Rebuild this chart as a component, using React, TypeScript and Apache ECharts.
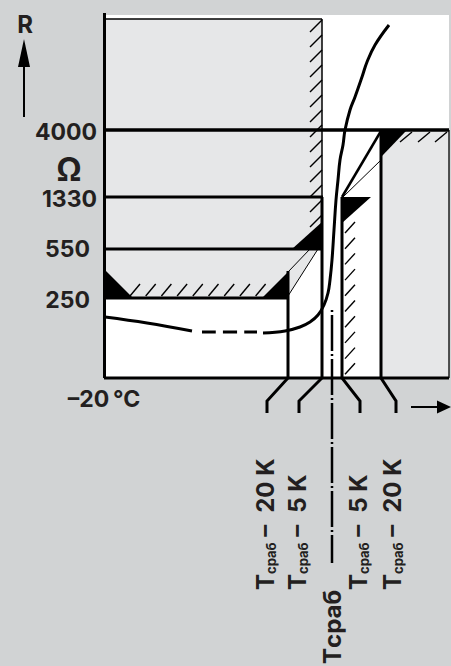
import React, { useEffect, useRef } from "react";
import * as echarts from "echarts";

// ---------- data (schematic units: x = temperature scale, y = resistance scale) ----------
const rLabels = ["250", "550", "1330", "4000"];
const rLevels = [80, 129, 181, 248];

const tLabelTails = ["–\u200220 K", "–\u20025 K", "–\u20025 K", "–\u200220 K"];
const tThresholds = [184, 218, 238, 277];
const tTickEnds = [163, 195, 256, 292];
const tLabelPos = [161, 193, 254, 288];
const tNominal = 228;
const tNominalLabel = "Tсраб";
const tStart = 0;
const tStartLabel = "–20\u2009°C";

const axisXMax = 345;
const axisYMax = 365;

const curveLow = [[1, 61], [43, 55], [88, 47]];
const curveDashed = [[98, 46], [153, 46]];
const curveRise = [
  [159, 45], [181, 47], [196, 51], [206, 56], [214, 63], [220, 73], [224, 85],
  [226, 98], [228, 118], [230, 148], [232, 178], [234, 198], [236, 218], [239, 233],
  [241, 248], [246, 268], [251, 281], [258, 301], [263, 316], [271, 333], [285, 353],
];

// ---------- styles ----------
const INK = "#231f20";
const LINE = "#000000";
const BG = "#d1d3d4";
const PANEL = "#e6e7e8";
const FONT = 'Inter, "Liberation Sans", sans-serif';

function renderSchematic(_params: any, api: any) {
  const c = (p: number[]) => api.coord(p);
  const ch: any[] = [];
  const poly = (pts: number[][], fill: string) =>
    ch.push({ type: "polygon", shape: { points: pts.map(c) }, style: { fill } });
  const seg = (a: number[], b: number[], w: number, dash?: number[]) => {
    const p = c(a);
    const q = c(b);
    ch.push({
      type: "line",
      shape: { x1: p[0], y1: p[1], x2: q[0], y2: q[1] },
      style: { stroke: LINE, lineWidth: w, lineDash: dash || null },
    });
  };
  const path = (pts: number[][], w: number) =>
    ch.push({ type: "polyline", shape: { points: pts.map(c) }, style: { stroke: LINE, lineWidth: w, fill: null } });
  const text = (p: number[], t: string, size: number, lh: number) => {
    const q = c(p);
    ch.push({
      type: "text",
      x: q[0],
      y: q[1],
      style: {
        text: t, fill: INK, font: `bold ${size}px ${FONT}`, lineHeight: lh,
        align: "center", verticalAlign: "middle",
      },
    });
  };
  const hatch = (x: number, y: number, dx: number, dy: number) => seg([x, y], [x + dx, y + dy], 1.4);

  const [l250, l550, l1330, l4000] = rLevels;
  const [tm20, tm5, tp5, tp20] = tThresholds;
  const panelTop = 359;
  const plotTop = 363;

  // fields
  poly([[0.5, 0], [axisXMax, 0], [axisXMax, plotTop], [0.5, plotTop]], "#ffffff");
  poly([[1, panelTop], [tm5, panelTop], [tm5, l550], [tm5 - 4, l550], [tm20, l250 + 2], [tm20, l250], [1, l250]], PANEL);
  poly([[tp20, 0], [axisXMax, 0], [axisXMax, l4000], [tp20, l4000]], PANEL);

  // hatching
  for (let y = 358; y >= 160; y -= 15) hatch(tm5 - 12, y - 12, 12, 12);
  for (let x = 26; x <= 153; x += 15.7) hatch(x, l250 + 2, 10, 12);
  for (let y = 156; y >= 14; y -= 15.7) hatch(tp5 + 3, y - 11, 10, 11);
  for (const x of [296, 314, 331]) hatch(x, l4000 - 12, 12, 10);

  // black wedges
  poly([[1, l250 + 28], [1, l250], [29, l250]], LINE);
  poly([[tm20 - 26, l250], [tm20 + 1, l250], [tm20 + 1, l250 + 27]], LINE);
  poly([[tm5 - 30, l550], [tm5, l550], [tm5, l550 + 27]], LINE);
  poly([[tp5, l1330], [tp5 + 29, l1330], [tp5, l1330 - 26]], LINE);
  poly([[tp20, l4000 - 1], [tp20 + 25, l4000 - 1], [tp20 + 1, l4000 - 26]], LINE);

  // level lines
  seg([0, l250], [tm20 + 1, l250], 3);
  seg([0, l550], [tm5, l550], 3);
  seg([0, l1330], [tm5 + 1, l1330], 3);
  seg([0, l4000], [axisXMax, l4000], 3.5);

  // panel outline
  seg([1, panelTop], [tm5, panelTop], 1.3);
  seg([tm5, panelTop], [tm5, l1330], 1.5);
  seg([axisXMax, 0], [axisXMax, l4000], 1.3);

  // thin construction lines
  seg([tm20, l250 + 26], [tm5 - 12, l550], 1);
  seg([tm20, l250 + 2], [tm5 - 4, l550], 1);
  seg([tp5 + 1, l1330], [tp20, l1330 + 37], 1);
  seg([tp5, l1330], [tp20, l4000 - 1], 2.5);

  // verticals continuing into the bent ticks
  path([[tm20, l250 + 27], [tm20, 0], [tTickEnds[0], -23], [tTickEnds[0], -35]], 3);
  path([[tm5, l1330], [tm5, 0], [tTickEnds[1], -23], [tTickEnds[1], -35]], 3);
  path([[tp5, l1330], [tp5, 0], [tTickEnds[2], -23], [tTickEnds[2], -35]], 3);
  path([[tp20, l4000], [tp20, 0], [tTickEnds[3], -23], [tTickEnds[3], -35]], 3);

  // nominal temperature dash-dot
  seg([tNominal, 68], [tNominal, -185], 2.5, [2, 3, 36, 3]);

  // frame
  seg([0.5, 0], [0.5, axisYMax], 3);
  seg([0, 0], [axisXMax, 0], 3);

  // axis arrows and symbols
  seg([-80, 261], [-80, 312], 2);
  poly([[-80, 339], [-86, 311], [-74, 311]], LINE);
  seg([307, -29], [334, -29], 2);
  poly([[347, -29], [333, -22.5], [333, -35.5]], LINE);
  text([-79, 354], "R", 24, 24);
  text([-35, 209], "Ω", 32, 26);

  return { type: "group", children: ch };
}

const labelFont = { fontFamily: FONT, fontWeight: "bold" as const, fontSize: 23, color: INK };
const hiddenAxis = {
  axisLine: { show: false },
  axisTick: { show: false },
  splitLine: { show: false },
};

const curve = (data: number[][], dashed: boolean) => ({
  type: "line",
  data,
  smooth: 0.4,
  symbol: "none",
  silent: true,
  z: 4,
  lineStyle: { color: LINE, width: 3, type: dashed ? [14, 7] : "solid" },
});

const yKeys: Record<string, string> = { "250": "c", "550": "b", "1330": "a", "4000": "a" };

const option: any = {
  animation: false,
  backgroundColor: BG,
  grid: { left: 104, right: 2, top: 13, bottom: 288, containLabel: false, outerBoundsMode: "none" },
  xAxis: [
    {
      type: "value", min: 0, max: axisXMax, position: "bottom", ...hiddenAxis,
      axisLabel: {
        customValues: [tStart], formatter: () => tStartLabel, margin: 21, verticalAlign: "middle", ...labelFont,
      },
    },
    {
      type: "value", min: 0, max: axisXMax, position: "bottom", ...hiddenAxis,
      axisLabel: {
        customValues: tLabelPos, rotate: 90, align: "left", verticalAlign: "middle", margin: 212, ...labelFont,
        fontSize: 24,
        formatter: (v: number) => `{m|T}{s|сраб}{m| ${tLabelTails[tLabelPos.indexOf(v)]}}`,
        rich: {
          m: { ...labelFont, fontSize: 24 },
          s: { ...labelFont, fontSize: 13, verticalAlign: "bottom" },
        },
      },
    },
    {
      type: "value", min: 0, max: axisXMax, position: "bottom", ...hiddenAxis,
      axisLabel: {
        customValues: [tNominal], rotate: 90, align: "left", verticalAlign: "middle", margin: 286, ...labelFont,
        fontSize: 24,
        formatter: () => tNominalLabel,
      },
    },
  ],
  yAxis: {
    type: "value", min: 0, max: axisYMax, ...hiddenAxis,
    axisLabel: {
      customValues: rLevels, margin: 7, ...labelFont,
      formatter: (v: number) => {
        const lab = rLabels[rLevels.indexOf(v)];
        return `{${yKeys[lab]}|${lab}}`;
      },
      rich: {
        a: { ...labelFont, padding: [4, 0, 0, 0] },
        b: { ...labelFont, padding: [0, 7, 0, 0] },
        c: { ...labelFont, padding: [4, 7, 0, 0] },
      },
    },
  },
  series: [
    { type: "custom", silent: true, clip: false, z: 2, data: [[0, 0]], renderItem: renderSchematic },
    curve(curveLow, false),
    curve(curveDashed, true),
    curve(curveRise, false),
  ],
};

export default function App() {
  const ref = useRef<HTMLDivElement>(null);
  useEffect(() => {
    if (!ref.current) return;
    const chart = echarts.init(ref.current, undefined, { renderer: "svg" });
    chart.setOption(option);
    return () => chart.dispose();
  }, []);
  return <div ref={ref} style={{ position: "fixed", left: 0, top: 0, width: 451, height: 666 }} />;
}
